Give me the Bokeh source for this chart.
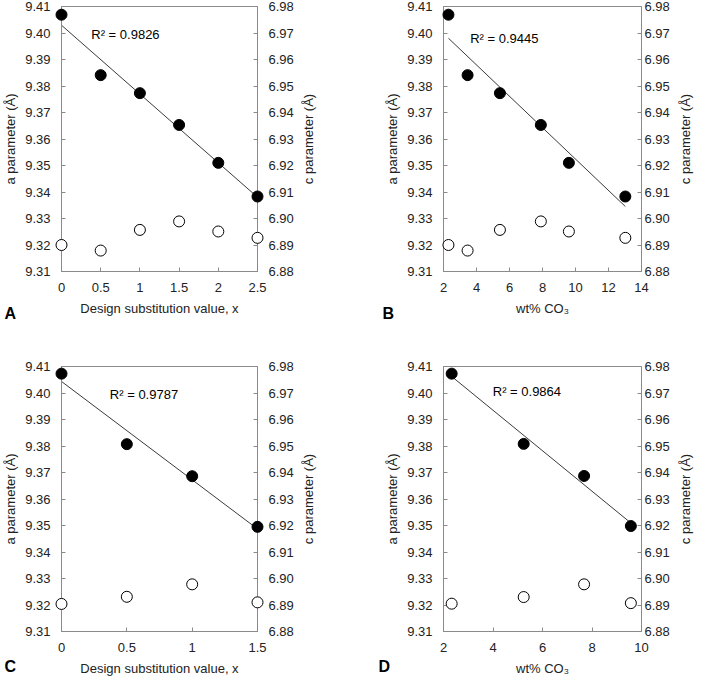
import math
import numpy as np
from bokeh.plotting import figure
from bokeh.models import Range1d, LinearAxis, FixedTicker, Label, NumeralTickFormatter
from bokeh.core.properties import value
from bokeh.layouts import column, row
from bokeh.embed import file_html
from bokeh.resources import INLINE

FONT = "Liberation Sans"
GRAY = "#8a8a8a"
TXT = "#222222"
FS = "13px"

# ---------------- data ----------------
a_ticks = [9.31, 9.32, 9.33, 9.34, 9.35, 9.36, 9.37, 9.38, 9.39, 9.40, 9.41]
c_ticks = [6.88, 6.89, 6.90, 6.91, 6.92, 6.93, 6.94, 6.95, 6.96, 6.97, 6.98]

# Panel A: design substitution value
A_x = [0, 0.5, 1, 1.5, 2, 2.5]
A_a = [9.4069, 9.3841, 9.3773, 9.3653, 9.3510, 9.3383]
A_c = [6.8900, 6.8879, 6.8957, 6.8989, 6.8951, 6.8927]
A_xticks = [0, 0.5, 1, 1.5, 2, 2.5]

# Panel B: wt% CO3
B_x = [2.3, 3.46, 5.42, 7.9, 9.6, 13.02]
B_a = [9.4069, 9.3841, 9.3773, 9.3653, 9.3510, 9.3383]
B_c = [6.8900, 6.8879, 6.8957, 6.8989, 6.8951, 6.8927]
B_xticks = [2, 4, 6, 8, 10, 12, 14]

# Panel C: design substitution value
C_x = [0, 0.5, 1, 1.5]
C_a = [9.4073, 9.3807, 9.3686, 9.3495]
C_c = [6.8904, 6.8931, 6.8978, 6.8910]
C_xticks = [0, 0.5, 1, 1.5]

# Panel D: wt% CO3
D_x = [2.33, 5.24, 7.68, 9.57]
D_a = [9.4073, 9.3808, 9.3687, 9.3498]
D_c = [6.8905, 6.8930, 6.8978, 6.8907]
D_xticks = [2, 4, 6, 8, 10]

R2 = ["R\u00b2 = 0.9826", "R\u00b2 = 0.9445", "R\u00b2 = 0.9787", "R\u00b2 = 0.9864"]
XLABEL_DSV = "Design substitution value, x"
XLABEL_CO3 = "wt% CO\u2083"
YLABEL_A = "a parameter (\u00c5)"
YLABEL_C = "c parameter (\u00c5)"


def style_axis(ax, standoff, label_standoff):
    ax.axis_line_color = GRAY
    ax.major_tick_line_color = GRAY
    ax.major_tick_in = 4
    ax.major_tick_out = 0
    ax.minor_tick_line_color = None
    ax.major_label_text_font = FONT
    ax.major_label_text_font_size = FS
    ax.major_label_text_color = TXT
    ax.major_label_standoff = standoff
    ax.axis_label_text_font = FONT
    ax.axis_label_text_font_size = FS
    ax.axis_label_text_font_style = "normal"
    ax.axis_label_text_color = TXT
    ax.axis_label_standoff = label_standoff


def panel(xs, av, cv, xr, xticks, xlabel, r2, r2pos, letter, letter_dx, letter_dy,
          bl, br, bt, bb, fw, rstand, rtitle_dx):
    p = figure(frame_width=fw, frame_height=265,
               x_range=Range1d(*xr), y_range=Range1d(9.31, 9.41),
               output_backend="svg", toolbar_location=None,
               min_border_left=bl, min_border_right=br,
               min_border_top=bt, min_border_bottom=bb,
               background_fill_color="white", border_fill_color="white",
               outline_line_color=GRAY)
    p.grid.visible = False
    p.extra_y_ranges = {"c": Range1d(6.88, 6.98)}

    p.yaxis.ticker = FixedTicker(ticks=a_ticks)
    p.yaxis.formatter = NumeralTickFormatter(format="0.00")
    p.yaxis.axis_label = YLABEL_A
    style_axis(p.yaxis[0], 11, 4)

    p.xaxis.ticker = FixedTicker(ticks=xticks)
    p.xaxis.formatter = NumeralTickFormatter(format="0.[0]")
    p.xaxis.axis_label = xlabel
    style_axis(p.xaxis[0], 11, 6)

    rax = LinearAxis(y_range_name="c", ticker=FixedTicker(ticks=c_ticks),
                     formatter=NumeralTickFormatter(format="0.00"))
    style_axis(rax, rstand, 4)
    p.add_layout(rax, "right")

    # right-hand axis title, reading bottom-to-top like the left one
    p.text(x=[xr[1]], y=[6.93], y_range_name="c", text=[YLABEL_C], x_offset=rtitle_dx,
           angle=math.pi / 2, text_font=value(FONT), text_font_size=FS,
           text_color=TXT, text_align="center", text_baseline="middle",
           level="overlay")

    # linear trend line of a parameter
    k, b0 = np.polyfit(np.array(xs, float), np.array(av, float), 1)
    lx = [min(xs), max(xs)]
    p.line(lx, [k * v + b0 for v in lx], line_color="#3a3a3a", line_width=1)

    p.scatter(xs, cv, y_range_name="c", size=11, marker="circle",
              fill_color="white", line_color="black", line_width=1, level="overlay")
    p.scatter(xs, av, size=11, marker="circle",
              fill_color="black", line_color="black", level="overlay")

    p.add_layout(Label(x=r2pos[0], y=r2pos[1], text=r2, text_font=FONT,
                       text_font_size=FS, text_color="black",
                       text_baseline="middle", text_align="left"))
    # panel letter, anchored at the frame's lower-left corner
    p.text(x=[xr[0]], y=[9.31], text=[letter], x_offset=letter_dx, y_offset=letter_dy,
           text_font=value(FONT), text_font_size="16px", text_font_style="bold",
           text_color="black", text_baseline="middle", text_align="left",
           level="overlay")
    return p


# widths: 60+196+92 = 348 and 94+198+53 = 345 -> 693 (fits inside the 8px margins)
# heights: 6+265+89 = 360 and 6+265+47 = 318 -> 678
pA = panel(A_x, A_a, A_c, (0, 2.5), A_xticks, XLABEL_DSV, R2[0], (0.38, 9.3996),
           "A", -57, 42, 60, 92, 6, 89, 196, 11, 51)
pB = panel(B_x, B_a, B_c, (2, 14), B_xticks, XLABEL_CO3, R2[1], (3.62, 9.3978),
           "B", -61, 42, 94, 53, 6, 89, 198, 3, 44)
pC = panel(C_x, C_a, C_c, (0, 1.5), C_xticks, XLABEL_DSV, R2[2], (0.37, 9.3995),
           "C", -57, 35, 60, 92, 6, 47, 196, 11, 51)
pD = panel(D_x, D_a, D_c, (2, 10), D_xticks, XLABEL_CO3, R2[3], (3.99, 9.4007),
           "D", -65, 35, 94, 53, 6, 47, 198, 3, 44)

layout = column(row(pA, pB), row(pC, pD))
open("out.html", "w").write(file_html(layout, INLINE))
